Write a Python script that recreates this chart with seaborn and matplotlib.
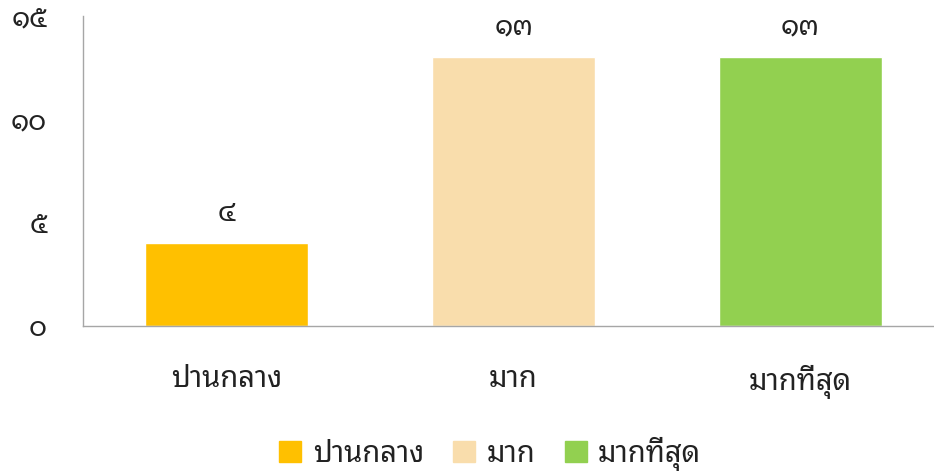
import seaborn as sns
import matplotlib.pyplot as plt
import pandas as pd

# Data
categories = ['ปานกลาง', 'มาก', 'มากที่สุด']
values = [4, 13, 13]
colors = ['#FFC000', '#F9DDAC', '#92D050']
y_ticks = [0, 5, 10, 15]

thai_digits = '๐๑๒๓๔๕๖๗๘๙'


def to_thai(n):
    return ''.join(thai_digits[int(c)] for c in str(n))


df = pd.DataFrame({'category': categories, 'value': values})

sns.set_style('white')
plt.rcParams['font.family'] = ['Noto Sans Thai Looped', 'DejaVu Sans']

fig = plt.figure(figsize=(9.34, 4.71), dpi=100)
ax = fig.add_axes([0.089, 0.308, 0.911, 0.658])

sns.barplot(data=df, x='category', y='value', hue='category',
            palette=colors, width=0.57, ax=ax, legend=False, saturation=1)

# value labels
for i, v in enumerate(values):
    ax.text(i, v + 0.75, to_thai(v), ha='center', va='bottom', fontsize=20, color='#222222')

ax.set_ylim(0, 15)
ax.set_xlim(-0.5, 2.465)
ax.set_yticks(y_ticks)
ax.set_yticklabels([to_thai(t) for t in y_ticks], fontsize=20, color='#222222')
ax.tick_params(axis='y', pad=26, length=0)
ax.tick_params(axis='x', pad=28, length=0, labelsize=21, labelcolor='#222222')
ax.set_xlabel('')
ax.set_ylabel('')

for s in ['top', 'right']:
    ax.spines[s].set_visible(False)
for s in ['left', 'bottom']:
    ax.spines[s].set_color('#A6A6A6')
    ax.spines[s].set_linewidth(1)

# legend
handles = [plt.Rectangle((0, 0), 1, 1, color=c) for c in colors]
fig.legend(handles, categories, loc='lower center', ncol=3, frameon=False,
           fontsize=21, bbox_to_anchor=(0.525, -0.055), handlelength=0.75,
           handleheight=0.75, handletextpad=0.4, columnspacing=1.0,
           labelcolor='#222222')

plt.savefig('out.png', dpi=100)
